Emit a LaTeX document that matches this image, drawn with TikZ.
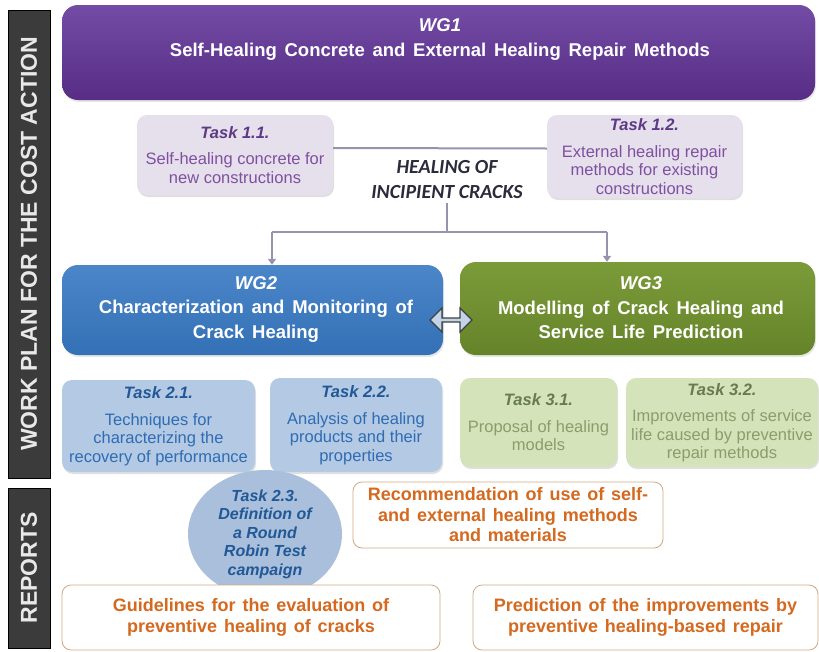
\documentclass[tikz,border=0pt]{standalone}
\usepackage{fontspec}
\setmainfont{Liberation Sans}
\newfontfamily\calibri{Carlito}
\usetikzlibrary{shapes.geometric,shapes.arrows,arrows.meta,shadows}
\definecolor{barfill}{HTML}{3B3B3B}
\definecolor{bartext}{HTML}{E8E8E8}
\definecolor{wgonetop}{HTML}{734CA5}
\definecolor{wgonebot}{HTML}{572D85}
\definecolor{wgtwotop}{HTML}{4A86C8}
\definecolor{wgtwobot}{HTML}{3470B5}
\definecolor{wgthreetop}{HTML}{7B9B39}
\definecolor{wgthreebot}{HTML}{65842A}
\definecolor{taskonefill}{HTML}{E5E0EC}
\definecolor{taskonetext}{HTML}{8050A0}
\definecolor{taskonetitle}{HTML}{5E3A86}
\definecolor{tasktwofill}{HTML}{B4C9E3}
\definecolor{tasktwotext}{HTML}{2E6CB4}
\definecolor{tasktwotitle}{HTML}{215896}
\definecolor{taskthreefill}{HTML}{D4E3BA}
\definecolor{taskthreetext}{HTML}{8B9D6C}
\definecolor{taskthreetitle}{HTML}{687B4F}
\definecolor{roundfill}{HTML}{A9BFDB}
\definecolor{reporttext}{HTML}{D4691F}
\definecolor{reportline}{HTML}{CFA883}
\definecolor{linkline}{HTML}{9991AD}
\definecolor{cracktext}{HTML}{2B2B3B}
\newcommand{\widespace}[1]{\spaceskip=#1em plus 0.1em\relax}
\begin{document}
\begin{tikzpicture}[x=1pt, y=-1pt,
        sidebar/.style={draw=black, fill=barfill, text=bartext, rotate=90, inner sep=0pt,
            font=\bfseries\fontsize{23}{26}\selectfont},
        wgbox/.style={rounded corners=16pt, inner sep=0pt,
            drop shadow={shadow xshift=1pt, shadow yshift=-2pt, opacity=0.2}},
        wgtext/.style={text=white, align=center, font=\bfseries\fontsize{18.5}{25}\selectfont\widespace{0.42}},
        taskbox/.style={rounded corners=10pt, align=center, inner sep=0pt,
            font=\fontsize{16.5}{18.5}\selectfont,
            drop shadow={shadow xshift=1pt, shadow yshift=-2pt, opacity=0.25}},
        reportbox/.style={draw=reportline, line width=0.8pt, fill=white, rounded corners=9pt,
            text=reporttext, align=center, inner sep=0pt,
            font=\bfseries\fontsize{18}{20.5}\selectfont\widespace{0.38}},
        link/.style={draw=linkline, line width=2pt},
        linkarrow/.style={link, -{Triangle[width=8pt,length=6pt]}}
    ]
        \useasboundingbox (0,0) rectangle (819,651);
        % side bars
        \node[sidebar, minimum width=468, minimum height=42] (workplan) at (29,244) {WORK PLAN FOR THE COST ACTION};
        \node[sidebar, minimum width=160, minimum height=42] (reports)  at (29,568) {REPORTS};
        % working groups
        \node[wgbox, top color=wgonetop, bottom color=wgonebot, minimum width=753, minimum height=95] (wg1) at (438.5,52.5) {};
        \node[wgtext] (wg1t) at (440,39) {\textit{WG1}\\ Self-Healing Concrete and External Healing Repair Methods};
        \node[wgbox, top color=wgtwotop, bottom color=wgtwobot, minimum width=381, minimum height=90] (wg2) at (252.5,310) {};
        \node[wgtext, font=\bfseries\fontsize{18.5}{24.5}\selectfont\widespace{0.42}] (wg2t) at (256,309)
            {\textit{WG2}\\ Characterization and Monitoring of\\ Crack Healing};
        \node[wgbox, top color=wgthreetop, bottom color=wgthreebot, minimum width=355, minimum height=93] (wg3) at (637.5,308.5) {};
        \node[wgtext, font=\bfseries\fontsize{18.5}{24.5}\selectfont\widespace{0.42}] (wg3t) at (641,308)
            {\textit{WG3}\\ Modelling of Crack Healing and\\ Service Life Prediction};
        % link between WG2 and WG3
        \node[double arrow, draw=black!75, line width=1.2pt, fill=tasktwofill!80!white, minimum width=24,
            minimum height=42, double arrow head extend=3pt, inner sep=0pt] (wglink) at (451,320) {};
        % tasks of WG1
        \node[taskbox, fill=taskonefill, text=taskonetext, minimum width=196, minimum height=80] (task11) at (235,155)
            {{\color{taskonetitle}\bfseries\itshape Task 1.1.}\\[8pt] Self-healing concrete for\\ new constructions};
        \node[taskbox, fill=taskonefill, text=taskonetext, minimum width=195, minimum height=83] (task12) at (644.5,156.5)
            {{\color{taskonetitle}\bfseries\itshape Task 1.2.}\\[8pt] External healing repair\\ methods for existing\\ constructions};
        \node[text=cracktext, align=center, font=\calibri\bfseries\itshape\fontsize{20}{25}\selectfont] (cracks) at (447,180)
            {HEALING OF\\ INCIPIENT CRACKS};
        % connectors
        \coordinate (fork)  at (447,232);
        \coordinate (forkL) at (272,232);
        \coordinate (forkR) at (607,232);
        \draw[link] ([yshift=7pt]task11.east) -- ([yshift=8pt]task12.west);
        \draw[link] (cracks.south) -- (fork);
        \draw[link] (forkL) -- (forkR);
        \draw[linkarrow] (forkL) -- (forkL |- wg2.north);
        \draw[linkarrow] (forkR) -- (forkR |- wg3.north);
        % tasks of WG2 and WG3
        \node[taskbox, fill=tasktwofill, text=tasktwotext, minimum width=193, minimum height=92] (task21) at (158.5,426)
            {{\color{tasktwotitle}\bfseries\itshape Task 2.1.}\\[8pt] Techniques for\\ characterizing the\\ recovery of performance};
        \node[taskbox, fill=tasktwofill, text=tasktwotext, minimum width=172, minimum height=94] (task22) at (356,425)
            {{\color{tasktwotitle}\bfseries\itshape Task 2.2.}\\[8pt] Analysis of healing\\ products and their\\ properties};
        \node[taskbox, fill=taskthreefill, text=taskthreetext, minimum width=157, minimum height=89] (task31) at (538.5,422.5)
            {{\color{taskthreetitle}\bfseries\itshape Task 3.1.}\\[8pt] Proposal of healing\\ models};
        \node[taskbox, fill=taskthreefill, text=taskthreetext, minimum width=192, minimum height=89] (task32) at (722,422.5)
            {{\color{taskthreetitle}\bfseries\itshape Task 3.2.}\\[8pt] Improvements of service\\ life caused by preventive\\ repair methods};
        \node[ellipse, fill=roundfill, text=tasktwotitle, minimum width=154, minimum height=128, inner sep=0pt, align=center,
            font=\bfseries\itshape\fontsize{16}{18.5}\selectfont] (task23) at (265,534)
            {Task 2.3.\\ Definition of\\ a Round\\ Robin Test\\ campaign};
        % reports
        \node[reportbox, minimum width=310, minimum height=66] (recommend) at (508,515)
            {Recommendation of use of self-\\ and external healing methods\\ and materials};
        \node[reportbox, minimum width=378, minimum height=65] (guidelines) at (251,617.5)
            {Guidelines for the evaluation of\\ preventive healing of cracks};
        \node[reportbox, minimum width=345, minimum height=65] (prediction) at (645.5,617.5)
            {Prediction of the improvements by\\ preventive healing-based repair};
    \end{tikzpicture}
\end{document}
